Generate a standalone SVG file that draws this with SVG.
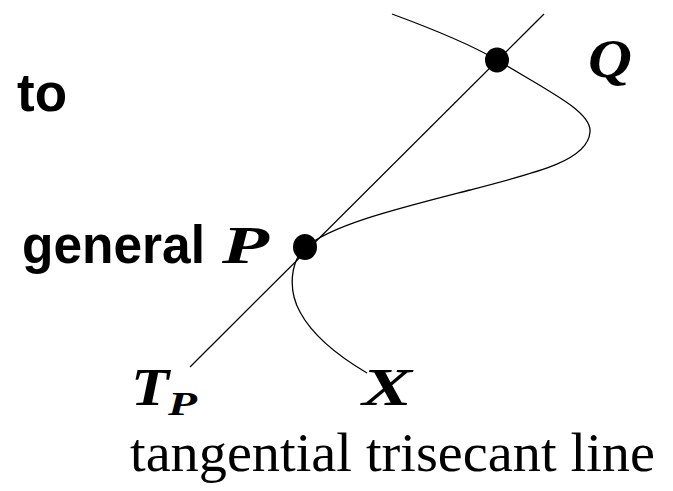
<svg xmlns="http://www.w3.org/2000/svg" width="673" height="491" viewBox="0 0 673 491">
<style>
.ln{fill:none;stroke:#000;stroke-width:1.3}
.sans{font-family:"Liberation Sans",Arial,sans-serif;font-weight:bold;font-size:53px}
.mi{font-family:"Liberation Serif","Times New Roman",serif;font-style:italic;font-weight:bold}
.rm{font-family:"Liberation Serif","Times New Roman",serif;font-size:54px}
</style>
<rect width="673" height="491" fill="#fff"/>
<g id="connectors">
<path class="ln" d="M190 367 L544 14"/>
<path class="ln" d="M392 14 C430 28 470 44 497 60 C550 92 592 112 590 132 C588 160 540 172 470 190 C400 208 330 225 305 248 C290 262 288 290 300 312 C315 340 345 360 367 373"/>
</g>
<g id="Q"><ellipse cx="497" cy="60" rx="12" ry="12.5"/><text class="mi" x="588" y="77" font-size="54" textLength="44" lengthAdjust="spacingAndGlyphs">Q</text></g>
<g id="P"><ellipse cx="305" cy="247" rx="12" ry="13"/><text class="mi" x="222" y="263" font-size="52" textLength="47" lengthAdjust="spacingAndGlyphs">P</text></g>
<g id="to"><text class="sans" x="17" y="111">to</text></g>
<g id="general"><text class="sans" x="22" y="263" textLength="183" lengthAdjust="spacingAndGlyphs">general</text></g>
<g id="TP"><text class="mi" x="131" y="405" font-size="52"><tspan textLength="38" lengthAdjust="spacingAndGlyphs">T</tspan><tspan x="168" font-size="34" dy="10" textLength="29" lengthAdjust="spacingAndGlyphs">P</tspan></text></g>
<g id="X"><text class="mi" x="362" y="405" font-size="52" textLength="50" lengthAdjust="spacingAndGlyphs">X</text></g>
<g id="caption"><text class="rm" x="130" y="471" textLength="525" lengthAdjust="spacingAndGlyphs">tangential trisecant line</text></g>
</svg>
